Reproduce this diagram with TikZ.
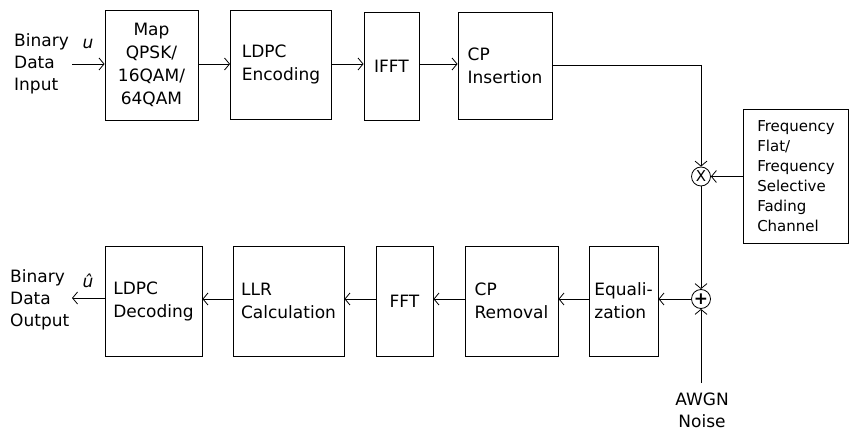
\documentclass[tikz,border=0pt]{standalone}
\usepackage{fontspec}
\setmainfont{DejaVu Sans}
\usetikzlibrary{arrows.meta}
\begin{document}
\begin{tikzpicture}[x=1pt,y=-1pt,
  blk/.style={draw,line width=0.9pt,inner sep=0pt,align=left,
    font=\fontsize{17}{23}\selectfont},
  lbl/.style={inner sep=0pt,align=left,font=\fontsize{17}{22}\selectfont},
  chan/.style={draw,line width=0.9pt,inner sep=0pt,align=left,
    font=\fontsize{15}{20}\selectfont},
  op/.style={draw,circle,line width=0.8pt,minimum size=19pt,inner sep=0pt},
  conn/.style={line width=0.8pt,-{Straight Barb[length=5pt,width=12pt]}},
  wire/.style={line width=0.8pt}]
\useasboundingbox (0,0) rectangle (850,430);
% transmitter
\node[blk,align=center,minimum width=93pt,minimum height=110pt] (map) at (151.5,65) {Map\\QPSK/\\16QAM/\\64QAM};
\node[blk,minimum width=101pt,minimum height=109pt] (enc) at (281,64.5) {LDPC\\Encoding};
\node[blk,minimum width=55pt,minimum height=108pt] (ifft) at (391.5,66) {IFFT};
\node[blk,minimum width=94pt,minimum height=107pt] (cpi) at (505,65.5) {CP\\Insertion};
% channel
\node[chan,minimum width=105pt,minimum height=134pt] (ch) at (796,176) {Frequency\\Flat/\\Frequency\\Selective\\Fading\\Channel};
\node[op] (mul) at (701,176.5) {\fontsize{15}{15}\selectfont X};
\node[op] (add) at (701,299) {\fontsize{17}{17}\selectfont\bfseries +};
% receiver
\node[blk,minimum width=69pt,minimum height=110pt] (eq) at (623.5,301) {Equali-\\zation};
\node[blk,minimum width=93pt,minimum height=110pt] (cpr) at (511.5,301) {CP\\Removal};
\node[blk,minimum width=57pt,minimum height=110pt] (fft) at (404.5,301) {FFT};
\node[blk,minimum width=111pt,minimum height=110pt] (llr) at (288.5,301) {LLR\\Calculation};
\node[blk,minimum width=97pt,minimum height=110pt] (dec) at (153.5,301) {LDPC\\Decoding};
% labels
\node[lbl,anchor=west] (in) at (14,64) {Binary\\Data\\Input};
\node[lbl,anchor=west] (out) at (10,300) {Binary\\Data\\Output};
\node[inner sep=0pt,font=\fontsize{17}{17}\selectfont\itshape] (u) at (88,44) {u};
\node[inner sep=0pt,font=\fontsize{17}{17}\selectfont\itshape] (uh) at (88,281) {û};
\node[lbl,align=center] (awgn) at (702,410) {AWGN\\Noise};
\coordinate (ins) at (72,64);
\coordinate (outs) at (72,298);
\coordinate (corner) at (701,65);
\coordinate (nz) at (701,383);
% connectors
\draw[conn] (ins) -- (map.west |- ins);
\draw[conn] (map.east |- ins) -- (enc.west |- ins);
\draw[conn] (enc.east |- ins) -- (ifft.west |- ins);
\draw[conn] (ifft.east |- ins) -- (cpi.west |- ins);
\draw[wire] (cpi.east |- corner) -- (corner);
\draw[conn] (corner) -- (mul.north);
\draw[conn] (ch.west |- mul) -- (mul.east);
\draw[conn] (mul.south) -- (add.north);
\draw[conn] (nz) -- (add.south);
\draw[conn] (add.west) -- (eq.east |- add);
\draw[conn] (eq.west |- add) -- (cpr.east |- add);
\draw[conn] (cpr.west |- add) -- (fft.east |- add);
\draw[conn] (fft.west |- add) -- (llr.east |- add);
\draw[conn] (llr.west |- add) -- (dec.east |- add);
\draw[conn] (dec.west |- outs) -- (outs);
\end{tikzpicture}
\end{document}
